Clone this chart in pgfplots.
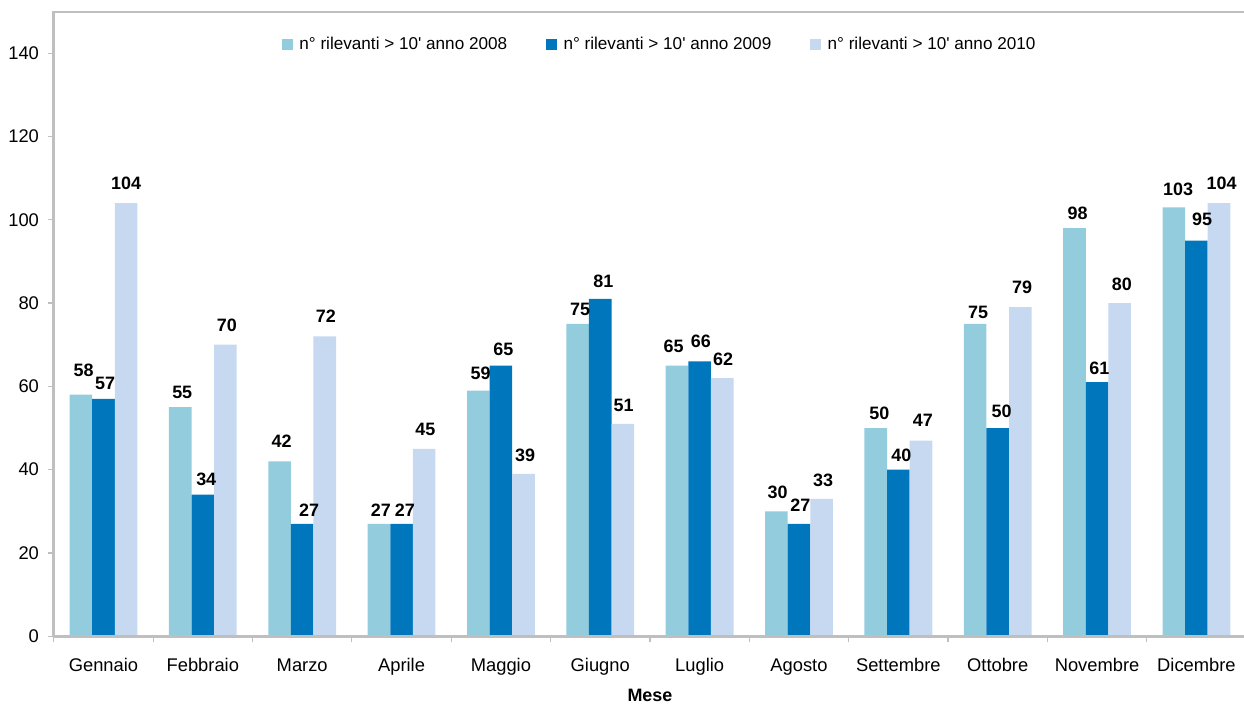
\documentclass[border=0pt]{standalone}
\usepackage{fontspec}
\setmainfont{Liberation Sans}
\usepackage{pgfplots}
\usepackage{pgfplotstable}
\pgfplotsset{compat=1.18}

\definecolor{c2008}{HTML}{93CDDD}
\definecolor{c2009}{HTML}{0077BD}
\definecolor{c2010}{HTML}{C6D9F0}
\definecolor{axisgray}{HTML}{BFBFBF}

% month index, value, label offsets (dx, dy) in half-bp
\pgfplotstableread{
x y dx dy
0 58 2.7 24.3
1 55 2 14.3
2 42 2 20.3
3 27 2 14
4 59 2.4 17.7
5 75 2.4 14.7
6 65 -3.4 19.3
7 30 1.3 18.7
8 50 3.7 14.7
9 75 3 11.7
10 98 3.2 15
11 103 4.3 18
}\tabA

\pgfplotstableread{
x y dx dy
0 57 1.7 15
1 34 3.4 15
2 27 7 14
3 27 3.3 14
4 65 2.4 16
5 81 3 18
6 66 1.2 20
7 27 1.3 18.5
8 40 3.1 14
9 50 3.8 16.3
10 61 2.2 14.3
11 95 5.6 21
}\tabB

\pgfplotstableread{
x y dx dy
0 104 0 20
1 70 1.4 19
2 72 1 20
3 45 1.3 19.7
4 39 1.7 19
5 51 0.8 18.3
6 62 0.9 19
7 33 1.6 19
8 47 2 20
9 79 1.8 20.3
10 80 2.2 19
11 104 2.6 20
}\tabC

\begin{document}
\begin{tikzpicture}
\begin{axis}[
  at={(0,0)}, anchor=south west,
  scale only axis, width=596.15bp, height=312.4bp,
  xmin=-0.5, xmax=11.5, ymin=0, ymax=150,
  ybar=0pt, bar width=11.3bp,
  axis on top,
  axis x line*=bottom, axis y line*=left,
  axis line style={draw=axisgray, line width=1.5bp},
  tick align=outside,
  xtick={0,...,11},
  xticklabels={Gennaio,Febbraio,Marzo,Aprile,Maggio,Giugno,Luglio,Agosto,Settembre,Ottobre,Novembre,Dicembre},
  major x tick style={draw=none},
  minor xtick={-0.5,0.5,...,11.5},
  minor x tick style={draw=axisgray, line width=0.6bp},
  minor tick length=3bp,
  ytick={0,20,...,140},
  y tick style={draw=axisgray, line width=0.6bp},
  major tick length=3bp,
  /pgf/number format/assume math mode=true,
  ticklabel style={font=\fontsize{9.2}{11}\selectfont, inner sep=0pt},
  xticklabel style={anchor=base, yshift=-14.4bp},
  yticklabel style={anchor=east, xshift=-4.25bp},
  xlabel={Mese},
  xlabel style={at={(axis description cs:0.5,0)}, anchor=north, inner sep=0pt,
    yshift=-26.3bp, font=\bfseries\fontsize{9}{11}\selectfont},
  legend columns=3,
  legend style={draw=none, fill=none, inner sep=0pt,
    at={(0.19114,0.9464)}, anchor=west,
    column sep=0pt,
    nodes={inner xsep=1.2bp, inner ysep=0pt, font=\fontsize{8.6}{10}\selectfont},
    /tikz/every odd column/.append style={column sep=2.2bp},
    /tikz/every even column/.append style={column sep=18.3bp}},
  legend cell align=left,
  legend image code/.code={\draw[#1, draw=none] (0bp,-2.75bp) rectangle (5.25bp,2.75bp);},
  nodes near coords,
  visualization depends on={\thisrow{dx} \as \dx},
  visualization depends on={\thisrow{dy} \as \dy},
  every node near coord/.append style={font=\bfseries\fontsize{9}{11}\selectfont,
    anchor=center, inner sep=0pt, xshift=\dx*0.5bp, yshift=\dy*0.5bp},
]
\addplot[fill=c2008, draw=none] table[x=x, y=y] {\tabA};
\addplot[fill=c2009, draw=none] table[x=x, y=y] {\tabB};
\addplot[fill=c2010, draw=none] table[x=x, y=y] {\tabC};
\legend{n° rilevanti > 10\textquotesingle{} anno 2008, n° rilevanti > 10\textquotesingle{} anno 2009, n° rilevanti > 10\textquotesingle{} anno 2010}
\draw[axisgray, line width=1.5bp] ([xshift=-0.75bp]rel axis cs:0,1) -- (rel axis cs:1,1);
\end{axis}
\pgfresetboundingbox
\path[use as bounding box] (-26.9bp,-33.85bp) rectangle (595.1bp,318.15bp);
\end{tikzpicture}
\end{document}
